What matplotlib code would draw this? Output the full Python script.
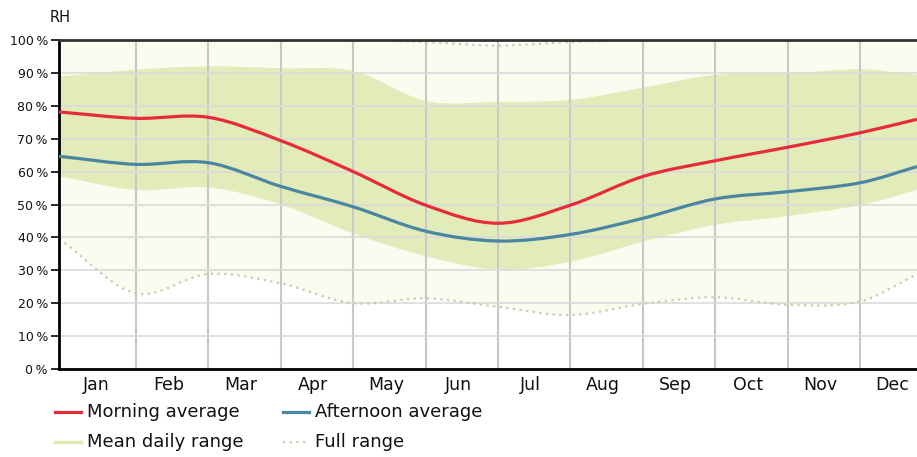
import numpy as np
import matplotlib
matplotlib.use('Agg')
from matplotlib import pyplot as plt
from matplotlib.path import Path
from matplotlib.patches import PathPatch
from matplotlib.lines import Line2D

plt.rcParams['font.family'] = ['DejaVu Sans']

months = ['Jan', 'Feb', 'Mar', 'Apr', 'May', 'Jun',
          'Jul', 'Aug', 'Sep', 'Oct', 'Nov', 'Dec']

# relative humidity [%], one value per month, last entry = value where
# the chart is cut off at the right edge
morning   = [78.0, 76.2, 76.5, 69.4, 60.0, 49.8, 44.3, 49.8, 58.5, 63.3, 67.4, 71.8, 75.9]
afternoon = [64.5, 62.2, 62.7, 55.5, 49.3, 41.9, 38.9, 40.9, 45.8, 51.7, 53.9, 56.6, 61.5]
mean_hi   = [89.0, 91.0, 92.0, 91.4, 90.6, 81.5, 81.2, 81.8, 85.5, 89.4, 89.8, 91.1, 89.4]
mean_lo   = [58.3, 54.4, 55.2, 50.0, 41.2, 34.3, 30.2, 32.6, 38.7, 43.8, 46.5, 49.8, 54.4]
full_hi   = [100, 100, 100, 100, 100, 99.4, 98.3, 99.4, 100, 100, 100, 100, 100]
full_lo   = [38.5, 23.0, 28.9, 26.0, 20.0, 21.5, 18.9, 16.4, 19.8, 21.8, 19.5, 20.5, 28.8]

yticks = list(range(0, 101, 10))

W, H = 917, 457
x_left, x_right = -0.0635, 11.787   # plot edges in month units
xs = np.append(np.arange(12.0), x_right)


def curve(ys):
    # smooth (catmull-rom like) curve as bezier vertices
    ys = np.asarray(ys, float)
    n = len(xs)
    m = np.empty(n)
    m[1:-1] = (ys[2:] - ys[:-2]) / (xs[2:] - xs[:-2])
    m[0] = (ys[1] - ys[0]) / (xs[1] - xs[0])
    m[-1] = (ys[-1] - ys[-2]) / (xs[-1] - xs[-2])
    verts = [(x_left, ys[0] + m[0]*(x_left - xs[0])), (xs[0], ys[0])]
    for i in range(n-1):
        h = xs[i+1] - xs[i]
        verts += [(xs[i] + h/3, ys[i] + m[i]*h/3),
                  (xs[i+1] - h/3, ys[i+1] - m[i+1]*h/3),
                  (xs[i+1], ys[i+1])]
    codes = [Path.MOVETO, Path.LINETO] + [Path.CURVE4]*3*(n-1)
    return verts, codes


def line_path(ys):
    v, c = curve(ys)
    return Path(v, c)


def band_path(hi, lo):
    vh, ch = curve(hi)
    vl, cl = curve(lo)
    verts = vh + vl[::-1] + [vh[0]]
    codes = ch + [Path.LINETO] + [Path.CURVE4]*(len(vl)-2) + [Path.LINETO, Path.CLOSEPOLY]
    return Path(verts, codes)


fig = plt.figure(figsize=(W/100, H/100), dpi=100)
ax = fig.add_axes([59/W, 1-369/H, 1-59/W, 329/H])
ax.set_facecolor('white')

ax.add_patch(PathPatch(band_path(full_hi, full_lo), facecolor='#fafcef', edgecolor='none', zorder=0.2))
ax.add_patch(PathPatch(band_path(mean_hi, mean_lo), facecolor='#e2ecba', edgecolor='none', zorder=0.3))
for s in [full_hi, full_lo]:
    ax.add_patch(PathPatch(line_path(s), facecolor='none', edgecolor='#d3c6a6',
                           lw=1.6, linestyle=(0, (1, 2)), zorder=1.5))
ax.add_patch(PathPatch(line_path(morning), facecolor='none', edgecolor='#e62b3b', lw=2.3, zorder=3))
ax.add_patch(PathPatch(line_path(afternoon), facecolor='none', edgecolor='#4886a1', lw=2.3, zorder=3))

ax.set_xlim(x_left, x_right)
ax.set_ylim(0, 100)

ax.set_xticks(np.arange(1, 12))
ax.set_xticklabels([])
ax.set_xticks(np.arange(12) + 0.45, minor=True)
ax.set_xticklabels(months, minor=True, fontsize=12.5, color='#111111')
ax.tick_params(axis='x', which='both', length=0, pad=5)

ax.set_yticks(yticks)
ax.set_yticklabels(['{}\u2009%'.format(v) for v in yticks], fontsize=9, color='#111111')
ax.tick_params(axis='y', length=6, width=1.2, pad=2, color='black')

ax.set_axisbelow(True)
ax.grid(axis='x', which='major', color='#c8c8c8', lw=1.5)
ax.grid(axis='y', color='#dadada', lw=1.2)

ax.spines['right'].set_visible(False)
ax.spines['left'].set_linewidth(2)
ax.spines['bottom'].set_linewidth(2)
ax.spines['top'].set_linewidth(2)
ax.spines['top'].set_color('#333333')

fig.text(50/W, 1-18/H, 'RH', fontsize=10.5, va='center', ha='left', color='#111111')

# legend
entries = [
    (55, 412, dict(color='#e62b3b', lw=2.3), 'Morning average'),
    (283, 412, dict(color='#4886a1', lw=2.3), 'Afternoon average'),
    (55, 442, dict(color='#dfe9b5', lw=2.5), 'Mean daily range'),
    (283, 442, dict(color='#d3c6a6', lw=1.6, linestyle=(0, (1, 2))), 'Full range'),
]
for x0, y0, st, lab in entries:
    fig.add_artist(Line2D([x0/W, (x0+26)/W], [1-y0/H, 1-y0/H], transform=fig.transFigure, **st))
    fig.text((x0+32)/W, 1-y0/H, lab, fontsize=13, va='center', ha='left', color='#111111')

plt.savefig('out.png', dpi=100)
